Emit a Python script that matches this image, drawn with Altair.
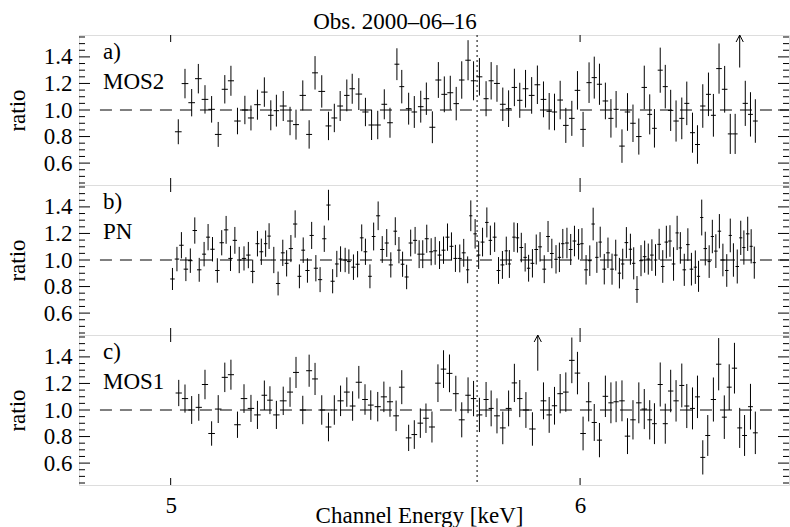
import altair as alt
import pandas as pd
import numpy as np

FONT = "Liberation Serif, Times New Roman, DejaVu Serif, serif"
FS = 23
W, H = 710, 150
X_DOM = [4.8, 6.585]
Y_DOM = [0.435, 1.565]

title_text = "Obs. 2000\u201306\u201316"
x_title = "Channel Energy [keV]"
y_title = "ratio"
x_tick_vals = [5, 6]
major_y = [0.6, 0.8, 1.0, 1.2, 1.4]
minor_y = [0.45, 0.5, 0.55, 0.65, 0.7, 0.75, 0.85, 0.9, 0.95, 1.05, 1.1, 1.15,
           1.25, 1.3, 1.35, 1.45, 1.5, 1.55]
line_energy = [5.731]
model_e = [4.845, 6.585]
model_r = [1.0, 1.0]

# ---- MOS2 ----
mos2_e = [5.017, 5.032, 5.047, 5.062, 5.077, 5.092, 5.107, 5.122, 5.136, 5.151,
          5.168, 5.182, 5.197, 5.213, 5.228, 5.241, 5.257, 5.273, 5.287, 5.303,
          5.318, 5.332, 5.348, 5.364, 5.378, 5.392, 5.408, 5.421, 5.437, 5.453,
          5.468, 5.483, 5.499, 5.513, 5.530, 5.542, 5.559, 5.573, 5.589, 5.603,
          5.618, 5.633, 5.648, 5.663, 5.678, 5.692, 5.708, 5.722, 5.737, 5.754,
          5.767, 5.782, 5.797, 5.812, 5.827, 5.841, 5.856, 5.872, 5.887, 5.903,
          5.918, 5.932, 5.947, 5.962, 5.978, 5.993, 6.008, 6.024, 6.038, 6.052,
          6.068, 6.083, 6.097, 6.113, 6.128, 6.143, 6.159, 6.174, 6.189, 6.202,
          6.218, 6.232, 6.247, 6.262, 6.278, 6.292, 6.308, 6.322, 6.337, 6.353,
          6.367, 6.383, 6.399, 6.415, 6.429, 6.458, 6.473, 6.487]
mos2_r = [0.836, 1.199, 1.055, 1.236, 1.08, 1.005, 0.816, 1.156, 1.22, 0.917,
          1.0, 0.94, 1.04, 1.135, 0.96, 0.995, 1.03, 0.917, 0.89, 1.11,
          0.816, 1.28, 1.14, 0.88, 0.94, 1.03, 1.11, 1.16, 1.12, 0.985,
          0.887, 0.887, 1.043, 0.904, 1.345, 1.176, 1.01, 0.985, 1.025, 1.085,
          0.87, 1.226, 1.118, 1.13, 1.048, 1.226, 1.375, 1.22, 1.25, 1.085,
          1.22, 1.2, 1.043, 1.01, 1.17, 1.073, 1.16, 1.11, 1.19, 1.08,
          0.99, 0.985, 1.075, 0.884, 0.937, 1.148, 0.854, 1.206, 1.244, 1.194,
          1.068, 0.937, 1.005, 0.728, 0.985, 0.9, 0.8, 1.17, 0.967, 0.862,
          1.3, 1.176, 0.997, 0.917, 0.937, 1.05, 0.829, 0.74, 1.03, 1.118,
          0.96, 1.312, 1.156, 0.82, 0.82, 1.05, 0.967, 0.917]
mos2_err = [0.094, 0.111, 0.103, 0.111, 0.107, 0.100, 0.094, 0.107, 0.113, 0.100,
            0.107, 0.094, 0.113, 0.111, 0.113, 0.120, 0.113, 0.107, 0.113, 0.113,
            0.107, 0.126, 0.122, 0.107, 0.107, 0.113, 0.120, 0.113, 0.120, 0.107,
            0.113, 0.107, 0.113, 0.113, 0.120, 0.126, 0.120, 0.120, 0.120, 0.122,
            0.120, 0.135, 0.135, 0.128, 0.126, 0.141, 0.151, 0.147, 0.141, 0.132,
            0.141, 0.138, 0.126, 0.138, 0.141, 0.132, 0.142, 0.138, 0.145, 0.135,
            0.138, 0.138, 0.145, 0.132, 0.132, 0.145, 0.132, 0.153, 0.158, 0.155,
            0.138, 0.145, 0.138, 0.126, 0.142, 0.141, 0.136, 0.164, 0.151, 0.145,
            0.170, 0.164, 0.155, 0.155, 0.157, 0.164, 0.151, 0.145, 0.164, 0.164,
            0.161, 0.189, 0.176, 0.151, 0.151, 0.170, 0.167, 0.164]
mos2_lim_e = [6.442]
mos2_lim_r = [1.32]

# ---- PN ----
pn_e = [5.004, 5.014, 5.024, 5.034, 5.044, 5.054, 5.064, 5.075, 5.084, 5.094,
        5.105, 5.115, 5.125, 5.135, 5.145, 5.155, 5.166, 5.176, 5.186, 5.197,
        5.206, 5.216, 5.224, 5.235, 5.245, 5.256, 5.265, 5.275, 5.285, 5.295,
        5.304, 5.314, 5.324, 5.334, 5.344, 5.354, 5.364, 5.374, 5.384, 5.393,
        5.404, 5.413, 5.424, 5.434, 5.444, 5.453, 5.464, 5.473, 5.484, 5.494,
        5.505, 5.515, 5.526, 5.535, 5.544, 5.554, 5.564, 5.575, 5.585, 5.594,
        5.604, 5.615, 5.625, 5.636, 5.646, 5.656, 5.666, 5.676, 5.687, 5.697,
        5.707, 5.715, 5.726, 5.735, 5.745, 5.756, 5.765, 5.776, 5.786, 5.796,
        5.806, 5.814, 5.826, 5.835, 5.845, 5.855, 5.864, 5.874, 5.884, 5.894,
        5.905, 5.915, 5.925, 5.936, 5.945, 5.954, 5.965, 5.975, 5.985, 5.996,
        6.005, 6.016, 6.026, 6.035, 6.045, 6.054, 6.065, 6.075, 6.086, 6.096,
        6.106, 6.115, 6.125, 6.136, 6.145, 6.154, 6.165, 6.175, 6.185, 6.195,
        6.205, 6.215, 6.225, 6.235, 6.245, 6.255, 6.265, 6.274, 6.285, 6.295,
        6.305, 6.316, 6.325, 6.334, 6.344, 6.355, 6.364, 6.374, 6.384, 6.394,
        6.405, 6.415, 6.424, 6.435, 6.445, 6.454, 6.465, 6.475, 6.484]
pn_r = [0.857, 1.007, 1.111, 0.931, 0.995, 1.222, 0.926, 1.044, 1.172, 1.081,
        0.921, 1.13, 1.227, 1.012, 1.148, 1.0, 1.012, 1.037, 0.914, 1.123,
        1.062, 1.123, 1.18, 1.0, 0.823, 1.054, 0.975, 1.086, 1.271, 0.877,
        1.074, 0.921, 1.185, 0.938, 0.852, 1.16, 1.414, 0.84, 0.97, 1.007,
        1.0, 0.988, 0.946, 0.968, 1.167, 1.062, 0.877, 1.177, 1.333, 1.079,
        1.128, 0.963, 1.217, 1.074, 0.968, 0.872, 1.128, 1.148, 1.044, 1.044,
        1.16, 1.062, 1.069, 1.037, 1.074, 1.172, 1.103, 1.012, 1.012, 1.054,
        0.926, 1.333, 1.197, 1.037, 1.135, 1.283, 1.148, 1.172, 0.921, 0.963,
        1.069, 0.97, 1.172, 1.167, 1.094, 1.02, 0.938, 0.975, 1.079, 1.099,
        0.931, 1.177, 1.049, 1.005, 1.02, 1.123, 1.128, 1.079, 1.143, 1.118,
        1.123, 0.926, 0.995, 1.271, 1.02, 1.135, 0.931, 1.054, 0.931, 1.037,
        0.901, 0.97, 1.131, 1.081, 0.975, 0.778, 0.995, 1.025, 1.007, 1.037,
        1.0, 1.118, 0.951, 1.135, 1.143, 0.97, 1.204, 1.091, 0.926, 1.116,
        0.931, 0.946, 0.877, 1.32, 1.086, 0.988, 1.177, 1.067, 1.217, 1.0,
        0.921, 1.185, 1.0, 0.951, 1.167, 1.094, 1.197, 1.103, 0.98]
pn_err = [0.083, 0.092, 0.099, 0.090, 0.092, 0.099, 0.090, 0.092, 0.099, 0.092,
          0.092, 0.095, 0.105, 0.095, 0.101, 0.099, 0.091, 0.099, 0.089, 0.096,
          0.099, 0.099, 0.097, 0.099, 0.090, 0.099, 0.099, 0.102, 0.103, 0.090,
          0.096, 0.092, 0.102, 0.099, 0.094, 0.099, 0.115, 0.091, 0.099, 0.096,
          0.092, 0.092, 0.096, 0.099, 0.101, 0.099, 0.090, 0.105, 0.108, 0.101,
          0.105, 0.095, 0.105, 0.099, 0.095, 0.092, 0.101, 0.101, 0.105, 0.105,
          0.106, 0.102, 0.105, 0.105, 0.103, 0.103, 0.105, 0.102, 0.105, 0.105,
          0.101, 0.116, 0.111, 0.105, 0.108, 0.113, 0.111, 0.111, 0.101, 0.105,
          0.107, 0.105, 0.111, 0.111, 0.111, 0.107, 0.101, 0.107, 0.113, 0.111,
          0.105, 0.117, 0.111, 0.107, 0.111, 0.111, 0.115, 0.117, 0.115, 0.115,
          0.117, 0.111, 0.115, 0.123, 0.117, 0.116, 0.115, 0.115, 0.117, 0.116,
          0.115, 0.115, 0.117, 0.117, 0.121, 0.101, 0.117, 0.121, 0.117, 0.119,
          0.119, 0.117, 0.123, 0.123, 0.119, 0.126, 0.129, 0.119, 0.121, 0.123,
          0.123, 0.126, 0.117, 0.135, 0.127, 0.123, 0.126, 0.127, 0.129, 0.123,
          0.123, 0.127, 0.126, 0.128, 0.129, 0.129, 0.129, 0.129, 0.121]
pn_lim_e = []
pn_lim_r = []

# ---- MOS1 ----
mos1_e = [5.018, 5.032, 5.047, 5.063, 5.077, 5.092, 5.107, 5.122, 5.136, 5.151,
          5.166, 5.182, 5.197, 5.213, 5.226, 5.241, 5.257, 5.273, 5.287, 5.303,
          5.318, 5.332, 5.348, 5.364, 5.378, 5.393, 5.408, 5.422, 5.437, 5.452,
          5.466, 5.483, 5.498, 5.513, 5.528, 5.542, 5.559, 5.573, 5.588, 5.602,
          5.617, 5.632, 5.646, 5.661, 5.677, 5.692, 5.708, 5.722, 5.737, 5.754,
          5.767, 5.782, 5.797, 5.812, 5.827, 5.841, 5.857, 5.874, 5.903, 5.918,
          5.932, 5.947, 5.962, 5.978, 5.993, 6.008, 6.023, 6.038, 6.052, 6.068,
          6.083, 6.097, 6.113, 6.128, 6.143, 6.159, 6.174, 6.189, 6.202, 6.218,
          6.232, 6.247, 6.262, 6.278, 6.292, 6.308, 6.322, 6.337, 6.351, 6.367,
          6.382, 6.398, 6.412, 6.427, 6.442, 6.456, 6.473, 6.487]
mos1_r = [1.128, 1.086, 1.0, 1.02, 1.192, 0.823, 1.007, 1.246, 1.266, 0.889,
          1.086, 1.012, 0.963, 1.111, 1.074, 0.963, 1.069, 1.135, 1.283, 1.0,
          1.296, 1.234, 1.0, 0.872, 1.0, 1.069, 1.135, 1.03, 1.209, 1.079,
          1.037, 1.025, 1.099, 1.062, 0.956, 1.172, 0.79, 0.815, 0.901, 0.938,
          0.872, 1.202, 1.308, 1.276, 1.123, 0.926, 1.111, 1.086, 0.963, 1.079,
          1.012, 0.956, 0.865, 1.012, 1.204, 1.086, 1.0, 0.857, 1.069, 0.963,
          1.032, 1.123, 1.135, 1.374, 1.278, 0.823, 1.062, 0.906, 0.773, 1.103,
          1.054, 1.062, 1.069, 0.803, 0.926, 1.054, 1.007, 0.926, 0.897, 1.192,
          0.897, 1.143, 1.069, 1.185, 1.03, 1.012, 1.099, 0.643, 0.808, 1.079,
          1.345, 0.946, 1.172, 1.315, 0.865, 0.808, 1.025, 0.828]
mos1_err = [0.099, 0.106, 0.105, 0.101, 0.111, 0.092, 0.105, 0.111, 0.113, 0.099,
            0.108, 0.102, 0.106, 0.111, 0.105, 0.106, 0.107, 0.111, 0.117, 0.107,
            0.121, 0.121, 0.111, 0.108, 0.111, 0.115, 0.111, 0.111, 0.123, 0.115,
            0.111, 0.111, 0.115, 0.113, 0.115, 0.128, 0.099, 0.108, 0.111, 0.111,
            0.117, 0.142, 0.142, 0.142, 0.135, 0.132, 0.135, 0.133, 0.129, 0.132,
            0.135, 0.132, 0.123, 0.135, 0.144, 0.140, 0.135, 0.126, 0.139, 0.135,
            0.142, 0.148, 0.148, 0.172, 0.160, 0.127, 0.148, 0.139, 0.129, 0.156,
            0.154, 0.154, 0.154, 0.135, 0.148, 0.154, 0.151, 0.148, 0.154, 0.166,
            0.151, 0.160, 0.156, 0.165, 0.166, 0.158, 0.160, 0.129, 0.154, 0.166,
            0.197, 0.164, 0.172, 0.191, 0.151, 0.154, 0.172, 0.160]
mos1_lim_e = [5.888]
mos1_lim_r = [1.296]

XS = alt.Scale(type="log", domain=X_DOM, nice=False, zero=False)
YS = alt.Scale(domain=Y_DOM, nice=False, zero=False)


def make_axes(bottom):
    if bottom:
        xa = alt.Axis(values=x_tick_vals, format="d", ticks=False, tickSize=0,
                      domain=False, grid=False, labelFont=FONT, labelFontSize=FS,
                      labelColor="black", labelPadding=27, labelBaseline="alphabetic",
                      title=x_title, titleFont=FONT, titleFontSize=FS,
                      titleFontWeight="normal", titleColor="black",
                      titleBaseline="alphabetic", titleY=37, titleX=340)
    else:
        xa = None
    ya = alt.Axis(values=major_y, format=".1f", ticks=False, tickSize=0, domain=False,
                  grid=False, labelFont=FONT, labelFontSize=FS, labelColor="black",
                  labelPadding=7, title=y_title, titleFont=FONT, titleFontSize=FS,
                  titleFontWeight="normal", titleColor="black", titleAngle=270,
                  titleBaseline="middle", titleX=-62)
    return xa, ya


def panel(e, r, err, lim_e, lim_r, letter, name, bottom=False, top=False):
    xa, ya = make_axes(bottom)

    def X(f):
        return alt.X(f, type="quantitative", scale=XS, axis=xa)

    def Y(f):
        return alt.Y(f, type="quantitative", scale=YS, axis=ya)

    e = np.array(e, dtype=float)
    r = np.array(r, dtype=float)
    err = np.array(err, dtype=float)
    gaps = np.diff(e)
    hw = np.minimum(np.r_[gaps[0], gaps], np.r_[gaps, gaps[-1]]) / 2.0
    df = pd.DataFrame({"E": e, "r": r, "lo": r - err, "hi": r + err,
                       "e0": e - hw, "e1": e + hw})
    black = dict(color="black", strokeWidth=1)

    model = alt.Chart(pd.DataFrame({"E": model_e, "r": model_r})).mark_line(
        strokeDash=[12, 8], clip=True, **black).encode(x=X("E"), y=Y("r"))
    vline = alt.Chart(pd.DataFrame({"E": line_energy})).mark_rule(
        strokeDash=[2, 3], **black).encode(x=X("E"))
    ebar = alt.Chart(df).mark_rule(clip=True, **black).encode(
        x=X("E"), y=Y("lo"), y2="hi")
    hbar = alt.Chart(df).mark_rule(clip=True, **black).encode(
        x=X("e0"), x2="e1", y=Y("r"))
    layers = [model, vline, ebar, hbar]

    if len(lim_e):
        ldf = pd.DataFrame({"E": lim_e, "r": lim_r, "top": [Y_DOM[1]] * len(lim_e)})
        layers.append(alt.Chart(ldf).mark_rule(clip=True, **black).encode(
            x=X("E"), y=Y("r"), y2="top"))
        layers.append(alt.Chart(ldf).mark_point(
            shape="M-0.9,1.75L0,0L0.9,1.75", filled=False, size=64,
            color="black", strokeWidth=1, opacity=1).encode(x=X("E"), y=Y("top")))

    maj = pd.DataFrame({"v": major_y})
    mnr = pd.DataFrame({"v": minor_y})
    xt = pd.DataFrame({"v": x_tick_vals})
    layers += [
        alt.Chart(maj).mark_rule(**black).encode(x=alt.value(0), x2=alt.value(11), y=Y("v")),
        alt.Chart(maj).mark_rule(**black).encode(x=alt.value(W), x2=alt.value(W - 11), y=Y("v")),
        alt.Chart(mnr).mark_rule(**black).encode(x=alt.value(0), x2=alt.value(6), y=Y("v")),
        alt.Chart(mnr).mark_rule(**black).encode(x=alt.value(W), x2=alt.value(W - 6), y=Y("v")),
        alt.Chart(xt).mark_rule(**black).encode(x=X("v"), y=alt.value(0), y2=alt.value(7)),
        alt.Chart(xt).mark_rule(**black).encode(x=X("v"), y=alt.value(H), y2=alt.value(H - 7)),
    ]

    lab = pd.DataFrame({"t": [letter, name], "yy": [24, 54]})
    layers.append(alt.Chart(lab).mark_text(
        align="left", baseline="alphabetic", font=FONT, fontSize=FS, color="black"
    ).encode(x=alt.value(24), y=alt.Y("yy:Q", scale=None), text="t:N"))

    if top:
        tdf = pd.DataFrame({"t": [title_text]})
        layers.append(alt.Chart(tdf).mark_text(
            align="center", baseline="alphabetic", font=FONT, fontSize=FS, color="black"
        ).encode(x=alt.value(316), y=alt.value(-6), text="t:N"))

    return alt.layer(*layers).properties(width=W, height=H)


pa = panel(mos2_e, mos2_r, mos2_err, mos2_lim_e, mos2_lim_r, "a)", "MOS2", top=True)
pb = panel(pn_e, pn_r, pn_err, pn_lim_e, pn_lim_r, "b)", "PN")
pc = panel(mos1_e, mos1_r, mos1_err, mos1_lim_e, mos1_lim_r, "c)", "MOS1", bottom=True)

chart = alt.vconcat(pa, pb, pc, spacing=0, bounds="flush").configure_view(
    stroke="black", strokeWidth=2
).configure(background="white", padding={"left": 5, "top": 10, "right": 0, "bottom": 0})

chart.save("out.html", embed_options={"renderer": "svg", "actions": False})
